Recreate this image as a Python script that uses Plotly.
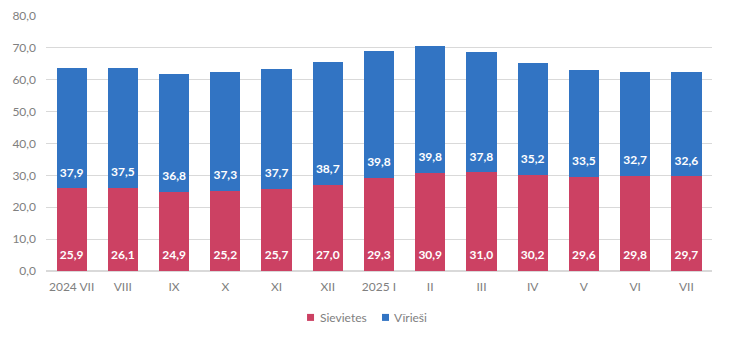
import plotly.graph_objects as go

categories = ["2024 VII", "VIII", "IX", "X", "XI", "XII", "2025 I", "II", "III", "IV", "V", "VI", "VII"]
women = [25.9, 26.1, 24.9, 25.2, 25.7, 27.0, 29.3, 30.9, 31.0, 30.2, 29.6, 29.8, 29.7]
men = [37.9, 37.5, 36.8, 37.3, 37.7, 38.7, 39.8, 39.8, 37.8, 35.2, 33.5, 32.7, 32.6]
tickvals = [0, 10, 20, 30, 40, 50, 60, 70, 80]
ticktext = ["0,0", "10,0", "20,0", "30,0", "40,0", "50,0", "60,0", "70,0", "80,0"]
series_names = ["Sievietes", "Vīrieši"]

C_W = "#CC4163"
C_M = "#3274C3"
LABEL_OFFSET = 4.6  # data units above a segment's base for the value label

def fmt(v):
    return f"{v:.1f}".replace(".", ",")

lab_font = dict(color="white", size=12, family="Lato", weight="bold")

fig = go.Figure()
fig.add_bar(x=categories, y=women, name=series_names[0], marker_color=C_W,
            marker_line_width=0, showlegend=False, hoverinfo="skip")
fig.add_bar(x=categories, y=men, name=series_names[1], marker_color=C_M,
            marker_line_width=0, showlegend=False, hoverinfo="skip")

# value labels
fig.add_scatter(x=categories, y=[LABEL_OFFSET] * len(women), mode="text",
                text=[fmt(v) for v in women], textposition="middle center",
                textfont=lab_font, showlegend=False, hoverinfo="skip")
fig.add_scatter(x=categories, y=[w + LABEL_OFFSET for w in women], mode="text",
                text=[fmt(v) for v in men], textposition="middle center",
                textfont=lab_font, showlegend=False, hoverinfo="skip")

# compact legend (symbol + text)
leg_y = -0.182
for name, col, xs, xt in [(series_names[0], C_W, 0.3972, 0.4084),
                          (series_names[1], C_M, 0.5098, 0.5195)]:
    fig.add_shape(type="rect", xref="paper", yref="paper",
                  xsizemode="pixel", ysizemode="pixel",
                  xanchor=xs, yanchor=leg_y, x0=-3.5, x1=3.5, y0=-3.5, y1=3.5,
                  fillcolor=col, line_width=0)
    fig.add_annotation(xref="paper", yref="paper", x=xt, y=leg_y,
                       xanchor="left", yanchor="middle", text=name,
                       showarrow=False, font=dict(size=12, color="#808080", family="Lato"))

fig.update_layout(
    barmode="stack",
    bargap=0.41,
    width=730, height=341,
    margin=dict(l=46, r=18, t=16, b=70),
    paper_bgcolor="white", plot_bgcolor="white",
    font=dict(family="Lato", size=12, color="#808080"),
    showlegend=False,
)
fig.update_yaxes(range=[0, 80], tickvals=tickvals, ticktext=ticktext,
                 showgrid=True, gridcolor="#d9d9d9", gridwidth=1,
                 zeroline=True, zerolinecolor="#d9d9d9", ticks="",
                 ticklabelstandoff=9, automargin=False,
                 tickfont=dict(size=12, color="#808080"))
fig.update_xaxes(range=[-0.5, len(categories) - 0.5], showgrid=False,
                 tickfont=dict(size=12, color="#808080"), ticks="",
                 ticklabelstandoff=7, showline=False, automargin=False)

fig.write_html("out.html")
